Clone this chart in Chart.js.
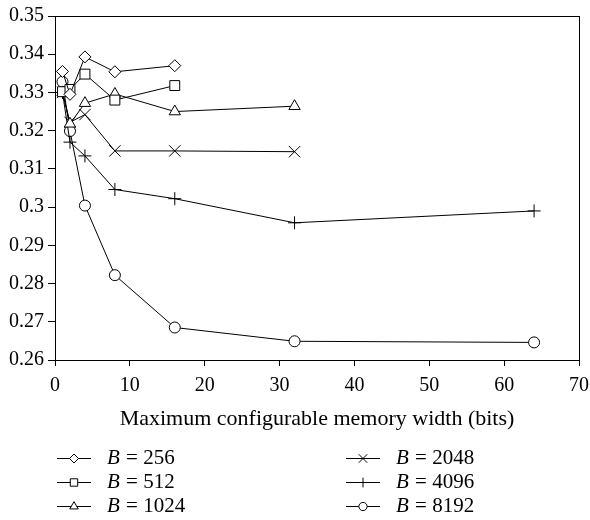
<!DOCTYPE html>
<html lang="en">
<head>
    <meta charset="UTF-8">
    <title>Memory width chart</title>
    <script src="https://cdn.jsdelivr.net/npm/chart.js"></script>
    <style>
        body { margin: 0; background: #fff; }
        #wrap { width: 590px; height: 520px; }
    </style>
</head>
<body>
    <div id="wrap"><canvas id="widthChart" width="590" height="520"></canvas></div>

    <script>
        // values
        const blockSizes = [256, 512, 1024, 2048, 4096, 8192];
        const widths = [1, 2, 4, 8, 16, 32, 64];
        const b256 = [0.3355, 0.3295, 0.3393, 0.3354, 0.3370];
        const b512 = [0.3302, 0.3308, 0.3348, 0.3280, 0.3318];
        const b1024 = [0.3300, 0.3218, 0.3272, 0.3296, 0.3250, 0.3264];
        const b2048 = [0.3300, 0.3222, 0.3242, 0.3147, 0.3147, 0.3145];
        const b4096 = [0.3300, 0.3170, 0.3134, 0.3046, 0.3022, 0.2959, 0.2990];
        const b8192 = [0.3328, 0.3199, 0.3004, 0.2822, 0.2685, 0.2649, 0.2646];
        const yTicks = [0.26, 0.27, 0.28, 0.29, 0.3, 0.31, 0.32, 0.33, 0.34, 0.35];

        const seriesValues = [b256, b512, b1024, b2048, b4096, b8192];
        const markers = ['rectRot', 'rect', 'triangle', 'crossRot', 'cross', 'circle'];
        const markerSize = [6, 7, 6.5, 8, 6.5, 5.5];
        const FONT = '"Liberation Serif", "DejaVu Serif", serif';

        const datasets = seriesValues.map((vals, i) => ({
            label: 'B = ' + blockSizes[i],
            data: vals.map((v, j) => ({ x: widths[j], y: v })),
            borderColor: '#000',
            borderWidth: 1,
            pointStyle: markers[i],
            pointRadius: markerSize[i],
            pointBorderColor: '#000',
            pointBackgroundColor: '#fff',
            pointBorderWidth: 1,
            fill: false,
            tension: 0
        }));

        // box round the plot
        const frame = {
            id: 'frame',
            afterDatasetsDraw(chart) {
                const a = chart.chartArea;
                const ctx = chart.ctx;
                ctx.save();
                ctx.strokeStyle = '#000';
                ctx.lineWidth = 1;
                ctx.strokeRect(Math.round(a.left) + 0.5, Math.round(a.top) + 0.5,
                    Math.round(a.right - a.left), Math.round(a.bottom - a.top));
                ctx.restore();
            }
        };

        // two column legend under the axis title, italic B
        const legendBox = {
            id: 'legendBox',
            afterDraw(chart) {
                const ctx = chart.ctx;
                const cols = [57, 346];
                const rows = [458, 482, 506];
                ctx.save();
                chart.data.datasets.forEach((ds, i) => {
                    const x = cols[Math.floor(i / 3)];
                    const y = rows[i % 3];
                    ctx.strokeStyle = '#000';
                    ctx.lineWidth = 1;
                    ctx.beginPath();
                    ctx.moveTo(x, y + 0.5);
                    ctx.lineTo(x + 34, y + 0.5);
                    ctx.stroke();
                    ctx.fillStyle = '#fff';
                    Chart.helpers.drawPoint(ctx, {
                        pointStyle: ds.pointStyle,
                        radius: ds.pointRadius * 0.75,
                        rotation: 0,
                        borderWidth: 1
                    }, x + 17, y + 0.5);
                    ctx.fillStyle = '#000';
                    ctx.textBaseline = 'middle';
                    ctx.font = 'italic 21px ' + FONT;
                    ctx.fillText('B', x + 50, y);
                    const w = ctx.measureText('B').width;
                    ctx.font = '21px ' + FONT;
                    ctx.fillText(' = ' + blockSizes[i], x + 50 + w + 1, y);
                });
                ctx.restore();
            }
        };

        new Chart(document.getElementById('widthChart'), {
            type: 'line',
            data: { datasets: datasets },
            plugins: [frame, legendBox],
            options: {
                responsive: false,
                animation: false,
                layout: { padding: { left: 3, right: 11, top: 12, bottom: 88 } },
                plugins: { legend: { display: false }, tooltip: { enabled: false } },
                scales: {
                    x: {
                        type: 'linear',
                        min: 0,
                        max: 70,
                        afterFit(scale) {
                            scale.height = 72;
                            scale.paddingLeft = 0;
                            scale.paddingRight = 0;
                        },
                        ticks: { stepSize: 10, color: '#000', padding: 8, maxRotation: 0,
                            font: { family: FONT, size: 20 } },
                        grid: { drawOnChartArea: false, color: '#000', tickLength: 6 },
                        border: { color: '#000', width: 1 },
                        title: { display: true, text: 'Maximum configurable memory width (bits)',
                            color: '#000', font: { family: FONT, size: 22 }, padding: 0 }
                    },
                    y: {
                        min: 0.26,
                        max: 0.35,
                        afterFit(scale) { scale.width = 52; },
                        afterBuildTicks(scale) { scale.ticks = yTicks.map(v => ({ value: v })); },
                        ticks: { color: '#000', padding: 4,
                            font: { family: FONT, size: 20 },
                            callback: v => String(+v.toFixed(2)) },
                        grid: { drawOnChartArea: false, color: '#000', tickLength: 7 },
                        border: { color: '#000', width: 1 }
                    }
                }
            }
        });
    </script>
</body>
</html>
